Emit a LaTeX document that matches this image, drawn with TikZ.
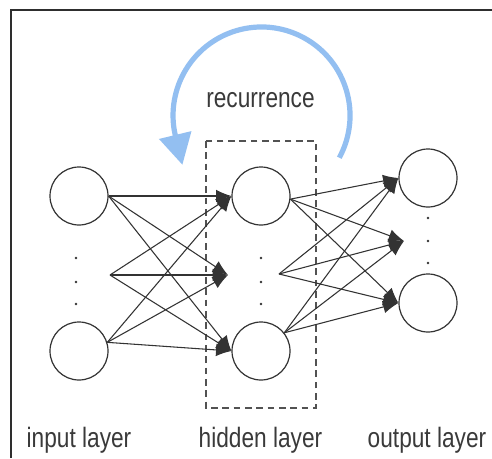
\documentclass[tikz,border=0pt]{standalone}
\usepackage{fontspec}
\setmainfont{Liberation Sans}[FakeStretch=0.81]
\usetikzlibrary{arrows.meta,calc}
\definecolor{ink}{HTML}{333333}
\definecolor{txt}{HTML}{3A3A3A}
\definecolor{recblue}{HTML}{93BFF1}
\tikzset{
  neuron/.style={circle, draw=ink, line width=0.9pt, fill=white, minimum size=43.5pt, inner sep=0pt},
  conn/.style={draw=ink, line width=0.8pt, -{Latex[length=11.5pt,width=9.5pt]}},
  dotmark/.style={circle, fill=ink, inner sep=0pt, minimum size=2.2pt},
  lbl/.style={text=txt, font=\fontsize{21pt}{24pt}\selectfont, inner sep=0pt, anchor=base},
  hidbox/.style={draw=ink!85, line width=0.8pt, dash pattern=on 5pt off 3.5pt},
  recur/.style={draw=recblue, line width=3.9pt, -{Triangle[length=23pt,width=24pt]}}
}
\begin{document}
\begin{tikzpicture}[x=0.75pt,y=-0.75pt]
\useasboundingbox (0,0) rectangle (492,458);
\fill[white] (0,0) rectangle (492,458);
% frame
\draw[ink!90!black, line width=1.5pt] (10.5,458) -- (10.5,9.5) -- (492,9.5);

% hidden layer box
\draw[hidbox] (206,141) rectangle (316,408);

% neurons
\node[neuron] (it) at (79,196) {};
\node[neuron] (ib) at (79,351) {};
\node[neuron] (ht) at (261,196) {};
\node[neuron] (hb) at (261,351) {};
\node[neuron] (ot) at (428,178) {};
\node[neuron] (ob) at (428,303) {};

% middle (elided) neuron points
\coordinate (ims) at (110,275);
\coordinate (hmt) at (228,275);
\coordinate (hms) at (279,274);
\coordinate (omt) at (404,241);

% dots
\foreach \y [count=\i] in {258,282,304} {
  \node[dotmark] (id\i) at (76,\y) {};
  \node[dotmark] (hd\i) at (261,\y) {};
}
\foreach \y [count=\i] in {218,241,263} {
  \node[dotmark] (od\i) at (428,\y) {};
}

% input -> hidden
\foreach \s in {it.east, ims, ib.17} {
  \draw[conn] (\s) -- (ht.west);
  \draw[conn] (\s) -- (hmt);
  \draw[conn] (\s) -- (hb.west);
}
% hidden -> output
\foreach \s in {ht.-6, hms, hb.38} {
  \draw[conn] (\s) -- (ot.west);
  \draw[conn] (\s) -- (omt);
  \draw[conn] (\s) -- (ob.west);
}

% recurrence
\coordinate (rs) at (339.3,157.7);
\draw[recur] (rs) arc[start angle=28.5, end angle=-193.3, radius=88.5] -- ++(7,29);
\node[lbl] (rec) at (260.5,107) {recurrence};

% labels
\node[lbl] (li) at (79,447) {input layer};
\node[lbl] (lh) at (260.5,447) {hidden layer};
\node[lbl] (lo) at (427,447) {output layer};
\end{tikzpicture}
\end{document}
